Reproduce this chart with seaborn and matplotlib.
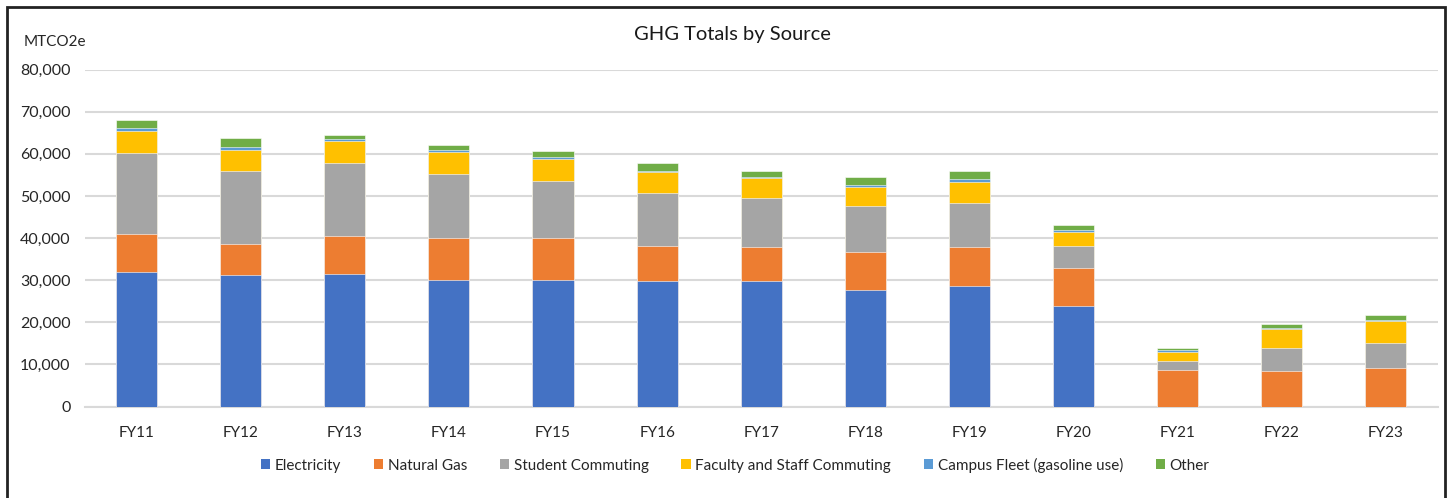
import numpy as np
import pandas as pd
import matplotlib
matplotlib.use("Agg")
import matplotlib.pyplot as plt
import seaborn as sns
from matplotlib.patches import Patch, Rectangle
from matplotlib.ticker import FuncFormatter

# values (MTCO2e)
years = ["FY11", "FY12", "FY13", "FY14", "FY15", "FY16", "FY17",
         "FY18", "FY19", "FY20", "FY21", "FY22", "FY23"]
electricity = [32000, 31200, 31400, 30100, 30100, 29700, 29700,
               27600, 28500, 23900, 0, 0, 0]
natural_gas = [9000, 7400, 9000, 9900, 9800, 8500, 8100,
               9000, 9300, 9000, 8600, 8400, 9100]
student_commuting = [19200, 17400, 17400, 15200, 13700, 12500, 11600,
                     10900, 10500, 5100, 2200, 5600, 5900]
staff_commuting = [5300, 5000, 5300, 5200, 5200, 4900, 4800,
                   4600, 5000, 3500, 2100, 4500, 5300]
campus_fleet = [500, 700, 400, 400, 500, 400, 300,
                400, 700, 400, 400, 100, 200]
other = [2100, 2100, 1000, 1400, 1400, 1800, 1500,
         1900, 1800, 1100, 500, 1100, 1200]

sources = ["Electricity", "Natural Gas", "Student Commuting",
           "Faculty and Staff Commuting", "Campus Fleet (gasoline use)", "Other"]
colors = ["#4472C4", "#ED7D31", "#A5A5A5", "#FFC000", "#5B9BD5", "#70AD47"]

sns.set_theme(style="white")
plt.rcParams["font.family"] = ["Lato", "DejaVu Sans"]

df = pd.DataFrame({
    "year": years,
    "Electricity": electricity,
    "Natural Gas": natural_gas,
    "Student Commuting": student_commuting,
    "Faculty and Staff Commuting": staff_commuting,
    "Campus Fleet (gasoline use)": campus_fleet,
    "Other": other,
})
cum = df[sources].cumsum(axis=1)
cum["year"] = df["year"]

fig = plt.figure(figsize=(14.5, 4.98), dpi=100)
ax = fig.add_axes([0.0583, 0.1837, 0.9333, 0.6767])

# draw cumulative totals from the top down so each lower layer covers the one above
for src, col in reversed(list(zip(sources, colors))):
    sns.barplot(data=cum, x="year", y=src, color=col, width=0.395,
                edgecolor="white", linewidth=0.4, saturation=1, ax=ax, zorder=3)

ax.set_ylim(0, 80000)
ax.set_xlim(-0.5, len(years) - 0.5)
ax.set_yticks(np.arange(0, 80001, 10000))
ax.yaxis.set_major_formatter(FuncFormatter(lambda v, p: f"{int(v):,}"))
ax.grid(axis="y", color="#D9D9D9", linewidth=1.5, zorder=0)
ax.set_axisbelow(True)
for s in ["top", "right", "left"]:
    ax.spines[s].set_visible(False)
ax.spines["bottom"].set_color("#D9D9D9")
ax.spines["bottom"].set_linewidth(1.5)
ax.tick_params(axis="both", length=0, labelsize=11.5, colors="#262626")
ax.tick_params(axis="x", pad=14, labelsize=11)
ax.tick_params(axis="y", pad=10)
ax.set_xlabel("")
ax.set_ylabel("")

fig.text(0.505, 0.93, "GHG Totals by Source", ha="center", va="center",
         fontsize=14.5, color="#1a1a1a")
fig.text(0.016, 0.916, "MTCO2e", ha="left", va="center", fontsize=11, color="#262626")

handles = [Patch(facecolor=c, edgecolor="none") for c in colors]
fig.legend(handles, sources, loc="center", bbox_to_anchor=(0.507, 0.066), ncol=6,
           frameon=False, fontsize=11, handlelength=0.6, handleheight=0.6,
           handletextpad=0.3, columnspacing=2.15, labelcolor="#262626")

# outer chart border (open at the bottom, as in the cropped reference)
fig.add_artist(Rectangle((0.0048, -0.05), 0.9917, 1.036, transform=fig.transFigure,
                         fill=False, edgecolor="#222222", linewidth=2))

fig.savefig("out.png", dpi=100)
